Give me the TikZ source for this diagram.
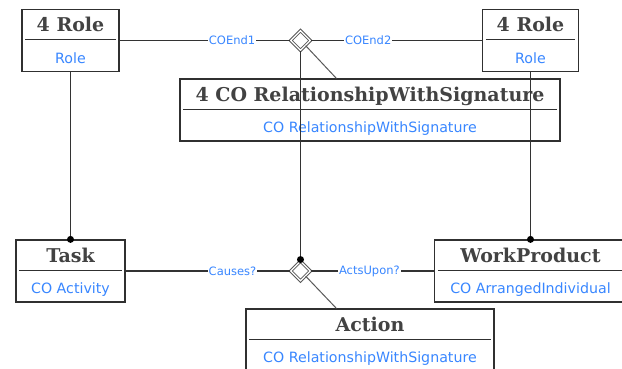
\documentclass[tikz,border=0pt]{standalone}
\usepackage{fontspec}
\setmainfont{DejaVu Serif}
\setsansfont{DejaVu Sans}
\usetikzlibrary{shapes.geometric}
\definecolor{ttlgray}{RGB}{66,66,66}
\definecolor{boxgray}{RGB}{48,48,48}
\definecolor{subblue}{RGB}{56,134,255}

\begin{document}
\begin{tikzpicture}[x=1pt, y=-1pt]
\tikzstyle{every node}=[inner sep=0pt];
\tikzstyle{classbox}=[draw=boxgray, line width=1.2pt, minimum height=62pt];
\tikzstyle{ttl}=[anchor=base, text=ttlgray, font=\fontsize{19}{21}\selectfont\bfseries];
\tikzstyle{sub}=[anchor=base, text=subblue, font=\sffamily\fontsize{14.2}{16}\selectfont];
\tikzstyle{sepline}=[draw=boxgray, line width=1.2pt];
\tikzstyle{conn}=[draw=black!80, line width=1.2pt];
\tikzstyle{lbl}=[fill=white, inner sep=1pt, text=subblue, font=\sffamily\fontsize{11.5}{13}\selectfont];
\tikzstyle{rel}=[shape=diamond, draw=black!65, line width=0.9pt, double=white, double distance=1.3pt, minimum width=20pt, minimum height=20pt];
\tikzstyle{dot}=[shape=circle, fill=black, minimum size=7pt];
\tikzstyle{link}=[draw=black!65, line width=1pt];
\clip (0,0) rectangle (622,369);

% classes
\node [classbox, minimum width=97pt] (role1) at (70.5,40.5) {};
\node [classbox, minimum width=96pt] (role2) at (530.5,40.5) {};
\node [classbox, minimum width=380pt] (relsig) at (370,110) {};
\node [classbox, minimum width=109pt] (task) at (70.5,271) {};
\node [classbox, minimum width=192pt] (wprod) at (530.5,271) {};
\node [classbox, minimum width=248pt] (action) at (370,340) {};

\node [ttl] (role1t) at ([yshift=-23pt]role1.north) {4 Role};
\node [sub] (role1s) at ([yshift=-54.5pt]role1.north) {Role};
\node [ttl] (role2t) at ([yshift=-23pt]role2.north) {4 Role};
\node [sub] (role2s) at ([yshift=-54.5pt]role2.north) {Role};
\node [ttl] (relsigt) at ([yshift=-23pt]relsig.north) {4 CO RelationshipWithSignature};
\node [sub] (relsigs) at ([yshift=-54.5pt]relsig.north) {CO RelationshipWithSignature};
\node [ttl] (taskt) at ([yshift=-23pt]task.north) {Task};
\node [sub] (tasks) at ([yshift=-54.5pt]task.north) {CO Activity};
\node [ttl] (wprodt) at ([yshift=-23pt]wprod.north) {WorkProduct};
\node [sub] (wprods) at ([yshift=-54.5pt]wprod.north) {CO ArrangedIndividual};
\node [ttl] (actiont) at ([yshift=-23pt]action.north) {Action};
\node [sub] (actions) at ([yshift=-54.5pt]action.north) {CO RelationshipWithSignature};

\foreach \c in {role1,role2,relsig,task,wprod,action}
  \draw [sepline] ([xshift=4pt,yshift=-31pt]\c.north west) -- ([xshift=-4pt,yshift=-31pt]\c.north east);

% relationship diamonds
\node [rel] (d1) at (300.5,40.5) {};
\node [rel] (d2) at (300.5,271) {};
\node [dot] (j1) at (role1 |- task.north) {};
\node [dot] (j2) at (role2 |- wprod.north) {};
\node [dot] (j3) at ([yshift=1pt]d2.north) {};
\coordinate (a1) at ([xshift=157pt]relsig.north west);
\coordinate (a2) at ([xshift=91pt]action.north west);

\draw [conn] (d1.west) -- node [lbl, pos=0.34] (e1) {COEnd1} (d1.west -| role1.east);
\draw [conn] (d1.east) -- node [lbl, pos=0.335] (e2) {COEnd2} (d1.east -| role2.west);
\draw [conn] (d2.west) -- node [lbl, pos=0.35] (e3) {Causes?} (d2.west -| task.east);
\draw [conn] (d2.east) -- node [lbl, pos=0.475] (e4) {ActsUpon?} (d2.east -| wprod.west);
\draw [conn] (role1.south) -- (j1);
\draw [conn] (role2.south) -- (j2);
\draw [conn] (d1.south) -- (j3);
\draw [link] (d1.south east) -- (a1);
\draw [link] (d2.south east) -- (a2);
\end{tikzpicture}
\end{document}
